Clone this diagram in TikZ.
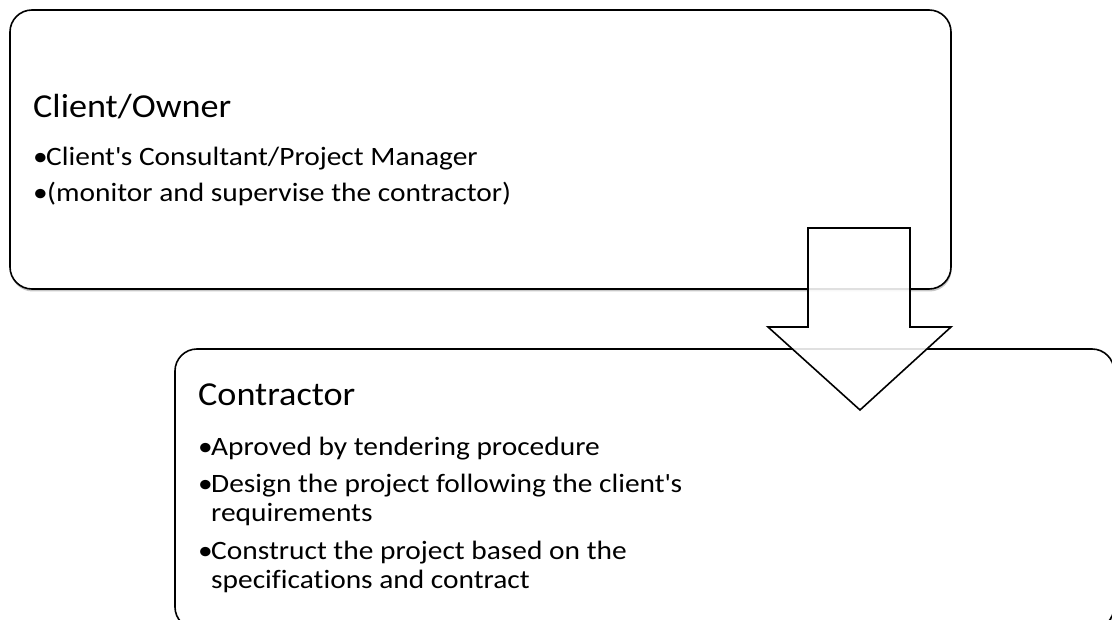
\documentclass[tikz,border=0pt]{standalone}
\usepackage{fontspec}
\setmainfont{Carlito}[FakeStretch=1.08]
\newfontfamily\ttlfont{Carlito}[FakeStretch=1.08]
\newfontfamily\bodyfont{Carlito}[FakeStretch=1.11, Ligatures={NoCommon}]
\usetikzlibrary{shadows}
\newlength\bulw
\setlength\bulw{13pt}
\newcommand\bul{\makebox[\bulw][l]{•}}
\newcommand\apos{\textquotesingle}
\tikzset{
  card/.style={draw=black, line width=1.6pt, fill=white, rounded corners=22pt,
    inner sep=0pt, drop shadow={shadow xshift=0.6pt, shadow yshift=-2.5pt, opacity=0.22, fill=black}},
  ttl/.style={anchor=base west, inner sep=0pt, font=\ttlfont\fontsize{33.5}{40}\selectfont},
  itm/.style={anchor=base west, inner sep=0pt, font=\bodyfont\fontsize{26.5}{28.5}\selectfont},
  blockarrow/.style={draw=black, line width=1.6pt, fill=white, fill opacity=0.88, line join=miter}
}
\begin{document}
\begin{tikzpicture}[x=1pt, y=-1pt]
  \useasboundingbox (0,0) rectangle (1112,620);
  \clip (0,0) rectangle (1112,620);
  \fill[white] (0,0) rectangle (1112,620);
  % boxes
  \node[card, minimum width=941pt, minimum height=279pt] (owner) at (480.5,149.5) {};
  \node[card, minimum width=939pt, minimum height=280pt] (contr) at (644.5,489) {};
  % block arrow
  \draw[blockarrow] (808,228) -- (910,228) -- (910,327) -- (951,327) -- (860,410)
        -- (768,327) -- (808,327) -- cycle;
  % texts box 1
  \node[ttl] (t1) at (33,118) {Client/Owner};
  \node[itm] (o1) at (33,166) {\bul Client\apos s Consultant/Project Manager};
  \node[itm] (o2) at (33,202) {\bul\hspace{1pt}(monitor and supervise the contractor)};
  % texts box 2
  \node[ttl] (t2) at (198,406) {Contractor};
  \node[itm] (c1) at (198,455) {\bul Aproved by tendering procedure};
  \node[itm] (c2) at (198,493) {\bul Design the project following the client\apos s};
  \node[itm] (c2b) at (198,521) {\hspace*{\bulw}requirements};
  \node[itm] (c3) at (198,559) {\bul Construct the project based on the};
  \node[itm] (c3b) at (198,588) {\hspace*{\bulw}specifications and contract};
\end{tikzpicture}
\end{document}
